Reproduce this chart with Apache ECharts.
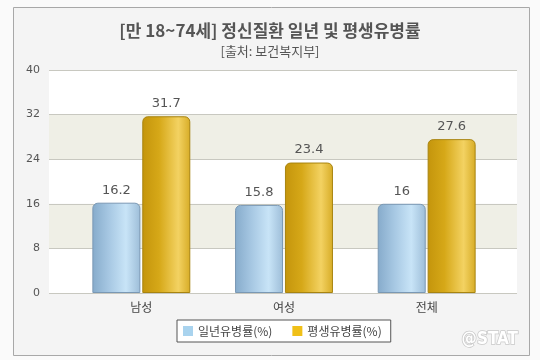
<!DOCTYPE html>
<html><head><meta charset="utf-8">
<script src="https://cdn.jsdelivr.net/npm/echarts@6/dist/echarts.min.js"></script>
<style>html,body{margin:0;padding:0;background:#fafafa;}#c{width:540px;height:360px;}</style>
</head><body><div id="c"></div>
<script>
var categories = ['남성', '여성', '전체'];
var seriesNames = ['일년유병률(%)', '평생유병률(%)'];
var yearRate = [16.2, 15.8, 16];
var lifeRate = [31.7, 23.4, 27.6];
var yTicks = [0, 8, 16, 24, 32, 40];

var KR = '"Noto Sans CJK KR", "DejaVu Sans", sans-serif';
var chart = echarts.init(document.getElementById('c'));
var blueGrad = new echarts.graphic.LinearGradient(0, 0, 1, 0, [
  {offset: 0, color: '#86abcb'}, {offset: 0.35, color: '#a7c8e3'},
  {offset: 0.7, color: '#c8e4f7'}, {offset: 1, color: '#9dbdd8'}]);
var goldGrad = new echarts.graphic.LinearGradient(0, 0, 1, 0, [
  {offset: 0, color: '#c4950c'}, {offset: 0.35, color: '#d6a818'},
  {offset: 0.75, color: '#f3d262'}, {offset: 1, color: '#d7ac26'}]);

chart.setOption({
  animation: false,
  graphic: [
    {type: 'rect', shape: {x: 13.5, y: 7.5, width: 516, height: 348}, style: {fill: '#f4f4f4', stroke: '#a8a8a8', lineWidth: 1}, z: -10},
    {type: 'text', x: 518, y: 331, style: {text: '@STAT', align: 'right', fill: '#ffffff', stroke: '#c8c8c8', lineWidth: 1.5, font: 'bold 17px "DejaVu Sans Condensed", "DejaVu Sans", sans-serif'}, z: 10}
  ],
  title: [
    {text: '[만 18~74세] 정신질환 일년 및 평생유병률', left: 'center', top: 17,
     textStyle: {fontFamily: KR, fontSize: 17, fontWeight: 'bold', color: '#555555'}},
    {text: '[출처: 보건복지부]', left: 'center', top: 40,
     textStyle: {fontFamily: KR, fontSize: 13, fontWeight: 'normal', color: '#555555'}}
  ],
  legend: {
    left: 177, top: 320, itemWidth: 10, itemHeight: 10, itemGap: 20,
    backgroundColor: '#ffffff', borderColor: '#555555', borderWidth: 1, borderRadius: 0,
    padding: [5, 9, 5, 6], icon: 'rect',
    textStyle: {fontFamily: KR, fontSize: 12, color: '#444444'},
    data: [
      {name: seriesNames[0], itemStyle: {color: '#a9d3ee', borderWidth: 0}},
      {name: seriesNames[1], itemStyle: {color: '#f0c018', borderWidth: 0}}
    ]
  },
  grid: [
    {left: 49, right: 23, top: 70, bottom: 67},
    {left: 70, right: 42, top: 70, bottom: 67}
  ],
  xAxis: [
    {gridIndex: 0, type: 'category', data: [''], show: false},
    {gridIndex: 1, type: 'category', data: categories,
     axisLine: {show: false}, axisTick: {show: false},
     axisLabel: {fontFamily: KR, fontSize: 12, color: '#444444', margin: 8}}
  ],
  yAxis: [
    {gridIndex: 0, type: 'value', min: yTicks[0], max: yTicks[yTicks.length - 1], interval: 8,
     axisLine: {show: false}, axisTick: {show: false},
     axisLabel: {fontFamily: '"DejaVu Sans", sans-serif', fontSize: 11, color: '#555555', margin: 9},
     splitLine: {show: true, lineStyle: {color: '#c8c8c0', width: 1}},
     splitArea: {show: true, areaStyle: {color: ['#ffffff', '#efefe6']}}},
    {gridIndex: 1, type: 'value', min: yTicks[0], max: yTicks[yTicks.length - 1], interval: 8,
     show: false, splitLine: {show: false}}
  ],
  series: [
    {name: seriesNames[0], type: 'bar', xAxisIndex: 1, yAxisIndex: 1, data: yearRate,
     barWidth: 48, barGap: '4%',
     itemStyle: {color: blueGrad, borderColor: '#7a98b4', borderWidth: 1, borderRadius: [5, 5, 0, 0]},
     label: {show: true, position: 'top', distance: 6, fontFamily: '"DejaVu Sans", sans-serif', fontSize: 13, color: '#555555'}},
    {name: seriesNames[1], type: 'bar', xAxisIndex: 1, yAxisIndex: 1, data: lifeRate,
     barWidth: 48, barGap: '4%',
     itemStyle: {color: goldGrad, borderColor: '#a88410', borderWidth: 1, borderRadius: [5, 5, 0, 0]},
     label: {show: true, position: 'top', distance: 6, fontFamily: '"DejaVu Sans", sans-serif', fontSize: 13, color: '#555555'}}
  ]
});
</script></body></html>
